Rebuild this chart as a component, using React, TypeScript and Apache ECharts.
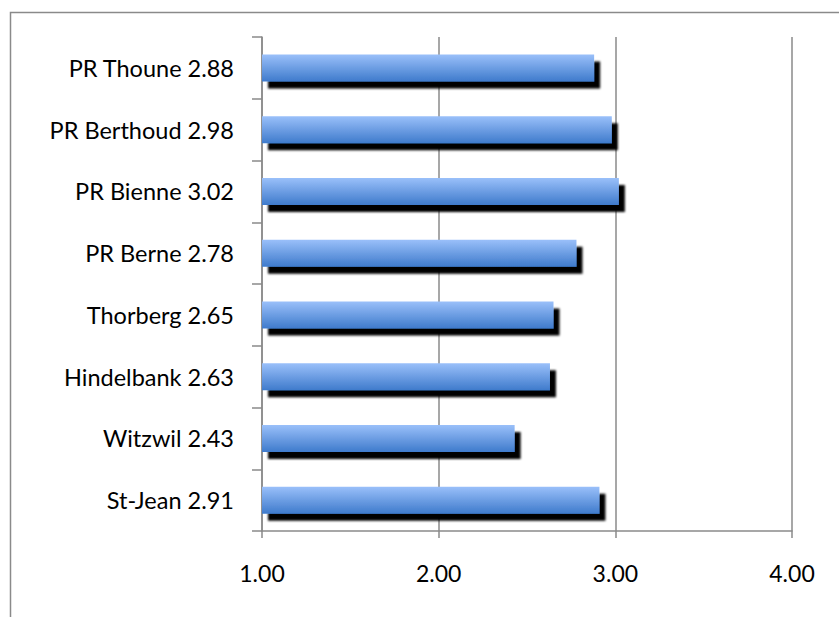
import React, { useEffect, useRef } from "react";
import * as echarts from "echarts";

// Establishments, listed bottom-to-top as the category axis draws them
const categories = [
  "St-Jean 2.91",
  "Witzwil 2.43",
  "Hindelbank 2.63",
  "Thorberg 2.65",
  "PR Berne 2.78",
  "PR Bienne 3.02",
  "PR Berthoud 2.98",
  "PR Thoune 2.88",
];
const scores = [2.91, 2.43, 2.63, 2.65, 2.78, 3.02, 2.98, 2.88];
const xTicks = { min: 1, max: 4, interval: 1 };

const FONT = "Lato, 'Open Sans', sans-serif";
const GRAY = "#8a8a8a";

export default function App() {
  const ref = useRef<HTMLDivElement>(null);

  useEffect(() => {
    if (!ref.current) return;
    const chart = echarts.init(ref.current, null, { renderer: "svg" });
    chart.setOption({
      animation: false,
      backgroundColor: "#ffffff",
      graphic: [
        {
          type: "rect",
          left: 8,
          top: 10,
          shape: { x: 0, y: 0, width: 900, height: 700 },
          style: { fill: "none", stroke: GRAY, lineWidth: 1.5 },
          silent: true,
          z: -1,
        },
      ],
      grid: { left: 262, right: 47, top: 37, bottom: 86, containLabel: false },
      xAxis: {
        type: "value",
        min: xTicks.min,
        max: xTicks.max,
        interval: xTicks.interval,
        axisLine: { show: true, lineStyle: { color: GRAY, width: 1.5 } },
        axisTick: { show: true, length: 7, lineStyle: { color: GRAY, width: 1.5 } },
        splitLine: { show: true, lineStyle: { color: GRAY, width: 1.5 } },
        axisLabel: {
          margin: 30,
          color: "#000",
          fontFamily: FONT,
          fontSize: 23,
          formatter: (v: number) => v.toFixed(2),
        },
      },
      yAxis: {
        type: "category",
        data: categories,
        boundaryGap: true,
        axisLine: { show: true, lineStyle: { color: GRAY, width: 1.5 } },
        axisTick: { show: true, length: 10, lineStyle: { color: GRAY, width: 1.5 } },
        splitLine: { show: false },
        axisLabel: {
          margin: 28,
          color: "#000",
          fontFamily: FONT,
          fontSize: 23.5,
        },
      },
      series: [
        {
          type: "bar",
          data: scores,
          barWidth: 27,
          itemStyle: {
            color: new echarts.graphic.LinearGradient(0, 0, 0, 1, [
              { offset: 0, color: "#9ac0fa" },
              { offset: 1, color: "#3f7bcc" },
            ]),
            shadowColor: "rgba(0,0,0,1)",
            shadowBlur: 2,
            shadowOffsetX: 6,
            shadowOffsetY: 7,
          },
        },
      ],
    });
    return () => chart.dispose();
  }, []);

  return (
    <div
      ref={ref}
      style={{ position: "fixed", left: 0, top: 0, width: 839, height: 617 }}
    />
  );
}
